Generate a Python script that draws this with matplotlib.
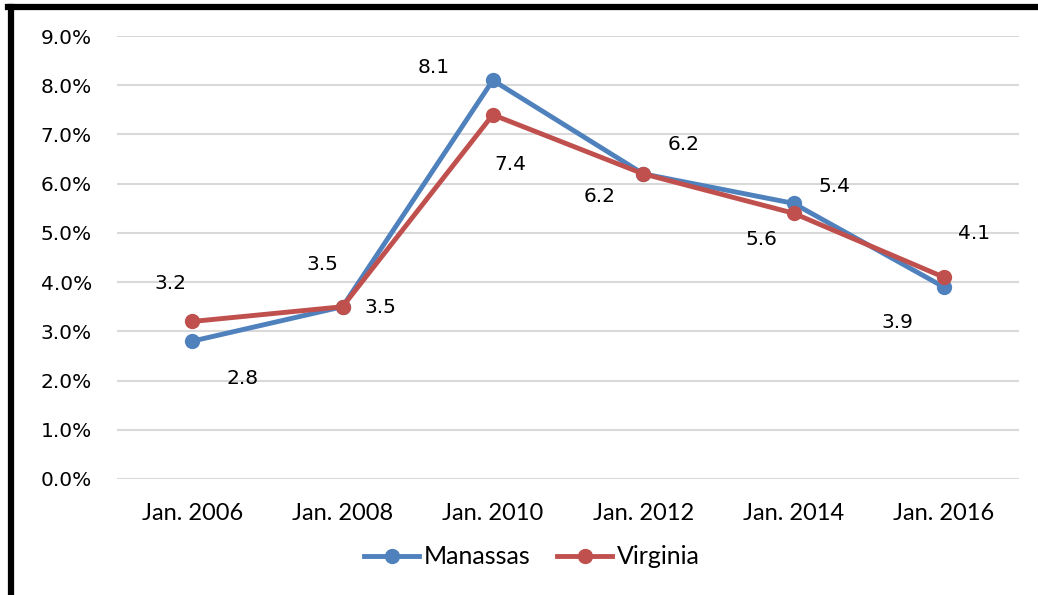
import matplotlib.pyplot as plt
from matplotlib.lines import Line2D
import numpy as np

# data
categories = ['Jan. 2006', 'Jan. 2008', 'Jan. 2010', 'Jan. 2012', 'Jan. 2014', 'Jan. 2016']
manassas = [2.8, 3.5, 8.1, 6.2, 5.6, 3.9]
virginia = [3.2, 3.5, 7.4, 6.2, 5.4, 4.1]
yticks = [0, 1, 2, 3, 4, 5, 6, 7, 8, 9]

# label offsets in pixels (dx, dy)
man_off = [(50, -37), (38, -1), (-59, 13), (-44, -23), (-32, -36), (-46, -35)]
vir_off = [(-22, 38), (-20, 42), (18, -50), (40, 29), (41, 27), (30, 44)]

blue = '#4f81bd'
red = '#c0504d'

fig = plt.figure(figsize=(10.38, 5.95), dpi=100)
ax = fig.add_axes([117/1038, 1-479/595, (1019-117)/1038, (479-36)/595])

x = np.arange(len(categories))
ax.plot(x, manassas, color=blue, lw=3.5, marker='o', ms=10, label='Manassas', zorder=3)
ax.plot(x, virginia, color=red, lw=3.5, marker='o', ms=10, label='Virginia', zorder=4)

for xi, v, off in zip(x, manassas, man_off):
    ax.annotate('%.1f' % v, (xi, v), xytext=off, textcoords='offset pixels',
                ha='center', va='center', fontsize=14.5, family='DejaVu Sans')
for xi, v, off in zip(x, virginia, vir_off):
    ax.annotate('%.1f' % v, (xi, v), xytext=off, textcoords='offset pixels',
                ha='center', va='center', fontsize=14.5, family='DejaVu Sans')

ax.set_xlim(-0.5, len(categories) - 0.5)
ax.set_ylim(0, 9)
ax.set_yticks(yticks)
ax.set_yticklabels(['%.1f%%' % t for t in yticks], fontsize=14.5, family='DejaVu Sans')
ax.set_xticks(x)
ax.set_xticklabels(categories, fontsize=17, family='Lato')
ax.tick_params(axis='y', length=0, pad=18)
ax.tick_params(axis='x', length=0, pad=17)
ax.grid(axis='y', color='#d9d9d9', lw=1.5)
ax.set_axisbelow(True)
for s in ax.spines.values():
    s.set_visible(False)

fig.legend(loc='center', bbox_to_anchor=(532/1038, 1-557/595), ncol=2, frameon=False,
           prop={'family': 'Lato', 'size': 18}, handlelength=2.2, columnspacing=1.05,
           handletextpad=0.2)

# black border on top and left
fig.add_artist(Line2D([11/1038, 11/1038], [0, 1-7/595], color='black', lw=4.5))
fig.add_artist(Line2D([8/1038, 1], [1-7/595, 1-7/595], color='black', lw=4.5))

fig.savefig('out.png', dpi=100)
